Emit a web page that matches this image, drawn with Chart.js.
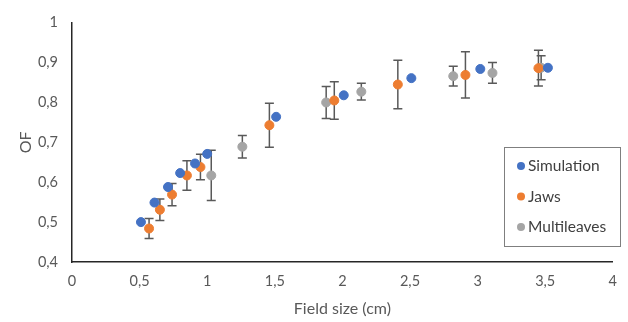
<html>
    <head>
        <title>OF vs field size</title>
        <script src="https://cdn.jsdelivr.net/npm/chart.js@4.4.1/dist/chart.umd.min.js"></script>
        <style>
            body { margin: 0; background: #fff; }
            .chart-container { position: relative; width: 628px; height: 322px; }
        </style>
    </head>
    <body>
        <div class="chart-container">
            <canvas id="myChart" width="628" height="322"></canvas>
        </div>
    <script type="text/javascript">
    // values
    var seriesNames = ["Simulation", "Jaws", "Multileaves"];

    var simX = [0.51, 0.61, 0.71, 0.80, 0.91, 1.00, 1.51, 2.01, 2.51, 3.02, 3.52];
    var simY = [0.500, 0.549, 0.588, 0.623, 0.647, 0.671, 0.764, 0.818, 0.861, 0.884, 0.887];

    var jawsX = [0.57, 0.65, 0.74, 0.85, 0.95, 1.46, 1.94, 2.41, 2.91, 3.45];
    var jawsY = [0.484, 0.531, 0.569, 0.617, 0.638, 0.743, 0.805, 0.845, 0.869, 0.886];
    var jawsErr = [0.025, 0.027, 0.028, 0.037, 0.032, 0.055, 0.047, 0.061, 0.058, 0.045];

    var mlX = [1.03, 1.26, 1.88, 2.14, 2.82, 3.11, 3.47];
    var mlY = [0.617, 0.689, 0.800, 0.827, 0.866, 0.874, 0.887];
    var mlErr = [0.063, 0.028, 0.040, 0.021, 0.025, 0.026, 0.030];

    var xTickValues = [0, 0.5, 1, 1.5, 2, 2.5, 3, 3.5, 4];
    var xTickLabels = ["0", "0,5", "1", "1,5", "2", "2,5", "3", "3,5", "4"];
    var yTickValues = [0.4, 0.5, 0.6, 0.7, 0.8, 0.9, 1];
    var yTickLabels = ["0,4", "0,5", "0,6", "0,7", "0,8", "0,9", "1"];

    var colors = ["#4472C4", "#ED7D31", "#A5A5A5"];
    var fontFam = "Lato, 'Open Sans', sans-serif";

    function toPoints(xs, ys, errs) {
        var out = [];
        for (var i = 0; i < xs.length; i++) {
            out.push({ x: xs[i], y: ys[i], err: errs ? errs[i] : 0 });
        }
        return out;
    }

    // error bars, drawn behind the markers
    var errorBars = {
        id: 'errorBars',
        beforeDatasetsDraw: function(chart) {
            var ctx = chart.ctx;
            var xs = chart.scales.x, ys = chart.scales.y;
            ctx.save();
            ctx.strokeStyle = '#595959';
            ctx.lineWidth = 1.5;
            chart.data.datasets.forEach(function(ds) {
                ds.data.forEach(function(p) {
                    if (!p.err) return;
                    var px = xs.getPixelForValue(p.x);
                    var top = ys.getPixelForValue(p.y + p.err);
                    var bot = ys.getPixelForValue(p.y - p.err);
                    ctx.beginPath();
                    ctx.moveTo(px, top); ctx.lineTo(px, bot);
                    ctx.moveTo(px - 4.5, top); ctx.lineTo(px + 4.5, top);
                    ctx.moveTo(px - 4.5, bot); ctx.lineTo(px + 4.5, bot);
                    ctx.stroke();
                });
            });
            ctx.restore();
        }
    };

    // boxed legend sitting inside the plot, lower right
    var boxLegend = {
        id: 'boxLegend',
        afterDraw: function(chart) {
            var ctx = chart.ctx;
            var left = 504, top = 147, w = 116, h = 99;
            ctx.save();
            ctx.fillStyle = '#fff';
            ctx.fillRect(left, top, w, h);
            ctx.strokeStyle = '#7f7f7f';
            ctx.lineWidth = 1;
            ctx.strokeRect(left + 0.5, top + 0.5, w, h);
            ctx.font = "15.5px " + fontFam;
            ctx.textBaseline = 'middle';
            chart.data.datasets.forEach(function(ds, i) {
                var cy = top + 19 + i * 30.5;
                ctx.fillStyle = ds.backgroundColor;
                ctx.beginPath();
                ctx.arc(left + 17, cy, 4, 0, Math.PI * 2);
                ctx.fill();
                ctx.fillStyle = '#404040';
                ctx.fillText(ds.label, left + 24, cy);
            });
            ctx.restore();
        }
    };

    var ctx = document.getElementById("myChart").getContext('2d');

    var myChart = new Chart(ctx, {
        type: 'scatter',
        data: {
            datasets: [{
                label: seriesNames[0],
                data: toPoints(simX, simY),
                backgroundColor: colors[0],
                borderColor: colors[0],
                pointRadius: 4.5
            }, {
                label: seriesNames[1],
                data: toPoints(jawsX, jawsY, jawsErr),
                backgroundColor: colors[1],
                borderColor: colors[1],
                pointRadius: 4.5
            }, {
                label: seriesNames[2],
                data: toPoints(mlX, mlY, mlErr),
                backgroundColor: colors[2],
                borderColor: colors[2],
                pointRadius: 4.5
            }]
        },
        options: {
            responsive: false,
            animation: false,
            layout: { padding: { top: 17, right: 15, left: 12, bottom: 0 } },
            plugins: {
                legend: { display: false },
                tooltip: { enabled: false }
            },
            scales: {
                x: {
                    type: 'linear',
                    min: 0, max: 4,
                    afterBuildTicks: function(axis) {
                        axis.ticks = xTickValues.map(function(v) { return { value: v }; });
                    },
                    afterFit: function(axis) { axis.height = 60; },
                    grid: { display: false, drawTicks: false },
                    border: { display: true, color: '#262626', width: 1.5 },
                    ticks: {
                        color: '#595959',
                        padding: 11,
                        font: { family: fontFam, size: 14.5 },
                        callback: function(v) {
                            var i = xTickValues.indexOf(v);
                            return i >= 0 ? xTickLabels[i] : '';
                        }
                    },
                    title: {
                        display: true,
                        text: 'Field size (cm)',
                        color: '#595959',
                        font: { family: fontFam, size: 16 },
                        padding: { top: 3 }
                    }
                },
                y: {
                    min: 0.4, max: 1,
                    afterBuildTicks: function(axis) {
                        axis.ticks = yTickValues.map(function(v) { return { value: v }; });
                    },
                    afterFit: function(axis) { axis.width = 60; },
                    grid: { display: false, drawTicks: false },
                    border: { display: true, color: '#262626', width: 1.5 },
                    ticks: {
                        color: '#595959',
                        padding: 14,
                        font: { family: fontFam, size: 14.5 },
                        callback: function(v) {
                            var i = yTickValues.findIndex(function(t) { return Math.abs(t - v) < 1e-9; });
                            return i >= 0 ? yTickLabels[i] : '';
                        }
                    },
                    title: {
                        display: true,
                        text: 'OF',
                        color: '#595959',
                        font: { family: fontFam, size: 16 },
                        padding: { bottom: 0 }
                    }
                }
            }
        },
        plugins: [errorBars, boxLegend]
    });
    </script>
    </body>
</html>
